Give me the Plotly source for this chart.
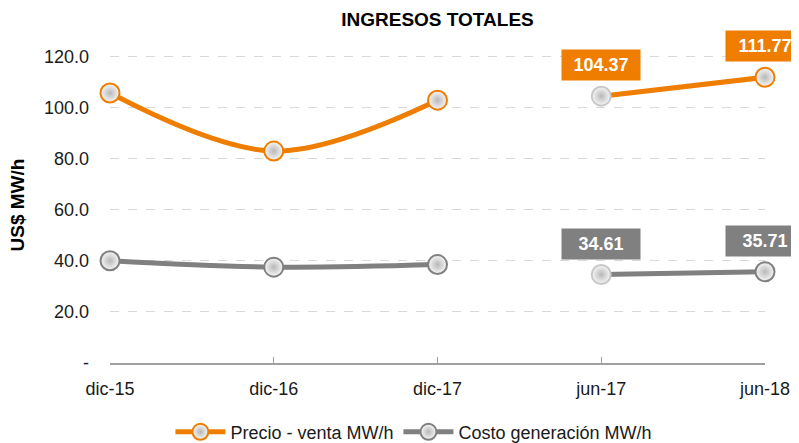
import plotly.graph_objects as go

categories = ["dic-15", "dic-16", "dic-17", "jun-17", "jun-18"]
precio = [105.6, 82.9, 102.8, 104.37, 111.77]
costo = [40.0, 37.5, 38.5, 34.61, 35.71]
y_ticks = [0, 20, 40, 60, 80, 100, 120]
y_tick_text = ["-", "20.0", "40.0", "60.0", "80.0", "100.0", "120.0"]
labelled_idx = [3, 4]

ORANGE = "#EE7D00"
GRAY = "#808080"
FONT = "Liberation Sans, Arial, sans-serif"

# page body has an 8px default margin; figure size compensates
W, H = 791, 435

x = list(range(len(categories)))
seg1 = slice(0, 3)
seg2 = slice(3, 5)

fig = go.Figure()

def add_series(name, vals, color):
    edge = [color, color, color, "#c8c8c8", color]
    for i, (sl, shape) in enumerate([(seg1, "spline"), (seg2, "linear")]):
        fig.add_trace(go.Scatter(
            x=x[sl], y=vals[sl], name=name, legendgroup=name,
            showlegend=(i == 0), mode="lines+markers",
            line=dict(color=color, width=5, shape=shape, smoothing=1.0),
            marker=dict(size=19, color="#f7f7f7",
                        gradient=dict(type="radial", color="#b8b8b8"),
                        line=dict(color=edge[sl], width=2)),
            cliponaxis=False, hoverinfo="skip",
        ))

add_series("Precio - venta MW/h", precio, ORANGE)
add_series("Costo generación MW/h", costo, GRAY)

for vals, color in [(precio, ORANGE), (costo, GRAY)]:
    for i in labelled_idx:
        fig.add_annotation(
            x=x[i], y=vals[i], xref="x", yref="y",
            text=f"<b>{vals[i]:.2f}</b>", showarrow=False,
            yshift=31, bgcolor=color, borderpad=5, width=68, height=20,
            font=dict(family=FONT, size=18, color="white"),
        )

fig.add_annotation(
    x=-0.1405, y=0.5, xref="paper", yref="paper", xanchor="center",
    yanchor="middle",
    text="<b>US$ MW/h</b>", textangle=-90, showarrow=False,
    font=dict(family=FONT, size=19, color="black"),
)

fig.update_layout(
    width=W, height=H,
    margin=dict(l=102, r=34, t=38, b=80, autoexpand=False),
    paper_bgcolor="white", plot_bgcolor="white",
    title=dict(text="<b>INGRESOS TOTALES</b>", x=0.5, xanchor="center",
               xref="paper", y=1 - 11 / H, yanchor="middle",
               font=dict(family=FONT, size=19, color="black")),
    font=dict(family=FONT, size=18, color="#1a1a1a"),
    showlegend=True,
    legend=dict(orientation="h", x=0.464, xanchor="center", y=-0.218,
                yanchor="middle", font=dict(family=FONT, size=18, color="#1a1a1a"),
                itemwidth=50, tracegroupgap=0),
    xaxis=dict(range=[0, 4], tickvals=x, ticktext=categories,
               showgrid=False, zeroline=False, showline=True,
               linecolor="#a0a0a0", linewidth=1.5, automargin=False,
               ticks="inside", ticklen=6, tickcolor="#a0a0a0",
               ticklabelstandoff=9, tickfont=dict(size=18), fixedrange=True),
    yaxis=dict(range=[0, 124], tickvals=y_ticks, ticktext=y_tick_text,
               showgrid=True, gridcolor="#d9d9d9", griddash="dash",
               gridwidth=1.3, zeroline=False, showline=False, automargin=False,
               ticks="", ticklabelstandoff=20, fixedrange=True),
)

fig.write_html("out.html")
